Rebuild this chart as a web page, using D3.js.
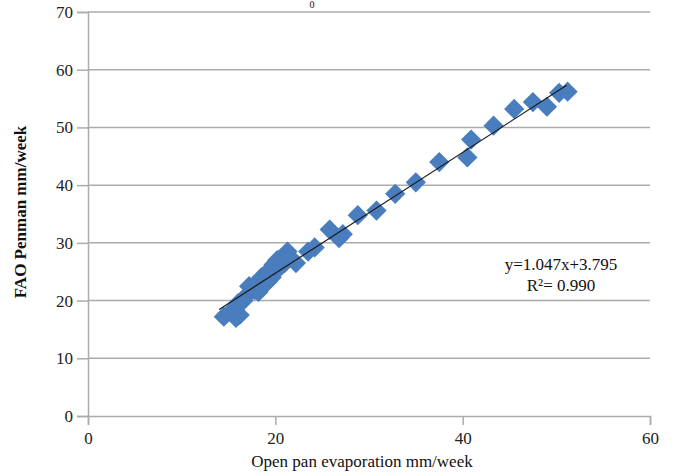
<!DOCTYPE html>
<html>
<head>
<meta charset="utf-8">
<script src="https://cdn.jsdelivr.net/npm/d3@7"></script>
<style>
  body { margin: 0; background: #fff; }
  text { font-family: "Liberation Serif", "Times New Roman", serif; }
</style>
</head>
<body>
<script>
let panEvap = [14.5, 15.2, 15.8, 16.2, 16.0, 16.6, 17.0, 17.2, 17.8, 18.0, 18.2, 18.5, 18.6, 19.0, 19.2, 19.5, 19.6, 19.8, 20.0, 20.2, 20.4, 20.6, 21.0, 21.3, 21.5, 22.2, 23.5, 24.2, 25.8, 26.8, 27.2, 28.8, 30.8, 32.8, 35.0, 37.5, 40.5, 40.9, 43.3, 45.5, 47.5, 49.0, 50.3, 51.2];
let penman = [17.2, 18.0, 17.0, 17.5, 19.5, 20.0, 21.0, 22.5, 21.8, 23.0, 21.5, 24.0, 22.5, 24.5, 23.3, 25.5, 24.0, 26.2, 25.0, 27.0, 25.8, 27.3, 26.5, 28.5, 27.5, 26.5, 28.5, 29.2, 32.3, 30.8, 31.5, 34.8, 35.6, 38.5, 40.5, 44.0, 44.8, 47.9, 50.3, 53.2, 54.4, 53.6, 56.0, 56.2];
let xTicks = [0, 20, 40, 60];
let yTicks = [0, 10, 20, 30, 40, 50, 60, 70];
let slope = 1.047, intercept = 3.795;
let fitRange = [14, 51.1];
let eqLines = ["y=1.047x+3.795", "R²= 0.990"];

let width = 675, height = 473;
let x = d3.scaleLinear().domain([0, 60]).range([88, 650]);
let y = d3.scaleLinear().domain([0, 70]).range([416, 12]);

let svg = d3.select("body").append("svg").attr("width", width).attr("height", height);

// gridlines
svg.selectAll("line.grid").data(yTicks.slice(1)).enter().append("line")
  .attr("class", "grid")
  .attr("x1", x(0)).attr("x2", x(60))
  .attr("y1", d => y(d)).attr("y2", d => y(d))
  .attr("stroke", "#ababab").attr("stroke-width", 1.5);

// axes
let yAxis = svg.append("g").attr("transform", `translate(${x(0)},0)`)
  .call(d3.axisLeft(y).tickValues(yTicks).tickSize(11).tickPadding(4));
let xAxis = svg.append("g").attr("transform", `translate(0,${y(0)})`)
  .call(d3.axisBottom(x).tickValues(xTicks).tickSize(9).tickPadding(7));
[xAxis, yAxis].forEach(g => {
  g.select(".domain").attr("stroke", "#ababab").attr("stroke-width", 1.5);
  g.selectAll(".tick line").attr("stroke", "#ababab").attr("stroke-width", 1.5);
  g.selectAll(".tick text").attr("fill", "#222").style("font-size", "17px")
    .style("font-family", "Liberation Serif");
});

// markers
let diamond = d3.symbol().type(d3.symbolSquare).size(205);
svg.selectAll("path.pt").data(panEvap).enter().append("path")
  .attr("class", "pt")
  .attr("d", diamond)
  .attr("transform", (d, i) => `translate(${x(d)},${y(penman[i])}) rotate(45)`)
  .attr("fill", "#4a7dbd");

// trend line
svg.append("line")
  .attr("x1", x(fitRange[0])).attr("y1", y(slope * fitRange[0] + intercept))
  .attr("x2", x(fitRange[1])).attr("y2", y(slope * fitRange[1] + intercept))
  .attr("stroke", "#1a1a1a").attr("stroke-width", 1.2);

// equation
svg.selectAll("text.eq").data(eqLines).enter().append("text")
  .attr("class", "eq")
  .attr("x", 561).attr("y", (d, i) => 270 + i * 21)
  .attr("text-anchor", "middle").style("font-size", "17px").attr("fill", "#111")
  .text(d => d);

// axis titles
svg.append("text").attr("x", 362).attr("y", 467).attr("text-anchor", "middle")
  .style("font-size", "17px").attr("fill", "#111").text("Open pan evaporation mm/week");
svg.append("text").attr("transform", "translate(26,212) rotate(-90)").attr("text-anchor", "middle")
  .style("font-size", "17px").style("font-weight", "bold").attr("fill", "#111").text("FAO Penman mm/week");

// cropped title remnant
svg.append("text").attr("x", 312).attr("y", 8).attr("text-anchor", "middle")
  .style("font-size", "10px").attr("fill", "#111").text("0");
</script>
</body>
</html>
